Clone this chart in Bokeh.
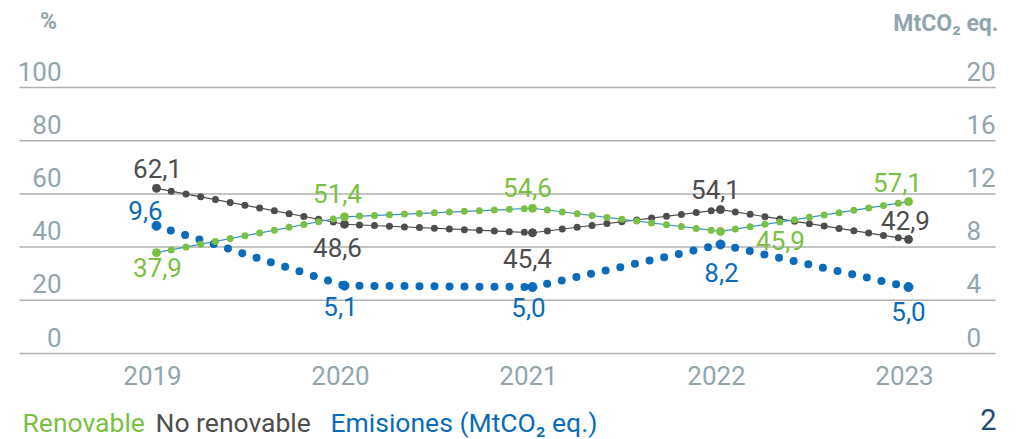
from bokeh.plotting import figure
from bokeh.models import Range1d, ColumnDataSource, LabelSet, Label
from bokeh.core.properties import value
from bokeh.embed import file_html
from bokeh.resources import INLINE

# ---------------- data ----------------
years = ["2019", "2020", "2021", "2022", "2023"]
renovable = [37.9, 51.4, 54.6, 45.9, 57.1]
no_renovable = [62.1, 48.6, 45.4, 54.1, 42.9]
emisiones = [9.6, 5.1, 5.0, 8.2, 5.0]
pct_ticks = [0, 20, 40, 60, 80, 100]
em_ticks = [0, 4, 8, 12, 16, 20]
legend_labels = ["Renovable", "No renovable", "Emisiones (MtCO\u2082 eq.)"]
left_title = "%"
right_title = "MtCO\u2082 eq."
page_number = "2"

# ---------------- style ----------------
GREEN = "#7ac143"
GREY = "#4d4d4d"
BLUE = "#0a6cb8"
THIN_BLUE = "#3a8fd2"
AXIS = "#92a5ad"
GRID = "#b0b0b0"
NAVY = "#1d4b73"
FONT = value("Roboto")

xs = list(range(len(years)))
# ranges chosen so the whole canvas is the plotting frame
X0, X1 = -0.8298, 4.5957
Y0, Y1 = -32.33, 132.71
EM_SCALE = pct_ticks[-1] / em_ticks[-1]
GL, GR = -0.7287, 4.4628  # horizontal extent of grid lines

p = figure(width=1020, height=439, min_border=0,
           x_range=Range1d(X0, X1), y_range=Range1d(Y0, Y1),
           x_axis_location=None, y_axis_location=None,
           toolbar_location=None, output_backend="svg")
p.extra_y_ranges = {"em": Range1d(Y0 / EM_SCALE, Y1 / EM_SCALE)}
p.outline_line_color = None
p.grid.visible = False
p.background_fill_color = "white"
p.border_fill_color = "white"

# grid lines (incl. baseline at 0)
p.segment(x0=[GL] * len(pct_ticks), x1=[GR] * len(pct_ticks), y0=pct_ticks, y1=pct_ticks,
          line_color=GRID, line_width=1.5)


def series(vals, color, thin_color, dot_w, dash, msize, rng="default"):
    src = ColumnDataSource(dict(x0=xs[:-1], y0=vals[:-1], x1=xs[1:], y1=vals[1:]))
    if thin_color:
        p.segment("x0", "y0", "x1", "y1", source=src, line_color=thin_color,
                  line_width=1.2, y_range_name=rng)
    p.segment("x0", "y0", "x1", "y1", source=src, line_color=color, line_width=dot_w,
              line_dash=dash, line_cap="round", y_range_name=rng)
    p.scatter(xs, vals, size=msize, color=color, y_range_name=rng)


series(emisiones, BLUE, None, 8, "0 15", 9, "em")
series(no_renovable, GREY, GREY, 7, "0 15", 8)
series(renovable, GREEN, THIN_BLUE, 7, "0 15", 8)


def fmt(v):
    return f"{v:.1f}".replace(".", ",")


def data_labels(vals, color, dx, dy, rng="default"):
    src = ColumnDataSource(dict(x=xs, y=vals, t=[fmt(v) for v in vals], dx=dx, dy=dy))
    p.add_layout(LabelSet(x="x", y="y", text="t", source=src, x_offset="dx", y_offset="dy",
                          text_align="center", text_baseline="middle", text_color=color,
                          text_font=FONT, text_font_size="26px", y_range_name=rng))


data_labels(no_renovable, GREY, [1, -7, -5, -5, -3], [20, -23, -26, 20, 19])
data_labels(renovable, GREEN, [1, -7, -5, 60, -11], [-15, 23, 21, -9, 19])
data_labels(emisiones, BLUE, [-11, -4, -4, 1, 0], [15, -21, -20, -28, -24], "em")

# x tick labels
xsrc = ColumnDataSource(dict(x=xs, y=[0] * len(xs), t=years))
p.add_layout(LabelSet(x="x", y="y", text="t", source=xsrc, x_offset=-4, y_offset=-22,
                      text_align="center", text_baseline="middle", text_color=AXIS,
                      text_font=FONT, text_font_size="26px"))

# y tick labels
lsrc = ColumnDataSource(dict(x=[GL] * len(pct_ticks), y=pct_ticks, t=[str(v) for v in pct_ticks]))
p.add_layout(LabelSet(x="x", y="y", text="t", source=lsrc, x_offset=42, y_offset=7,
                      text_align="right", text_baseline="alphabetic", text_color=AXIS,
                      text_font=FONT, text_font_size="26px"))
rsrc = ColumnDataSource(dict(x=[GR] * len(em_ticks), y=em_ticks, t=[str(v) for v in em_ticks]))
p.add_layout(LabelSet(x="x", y="y", text="t", source=rsrc, x_offset=-29, y_offset=7,
                      text_align="left", text_baseline="alphabetic", text_color=AXIS,
                      text_font=FONT, text_font_size="26px", y_range_name="em"))

# axis titles
p.add_layout(Label(x=GL, y=pct_ticks[-1], x_offset=29, y_offset=66, text=left_title,
                   text_align="center", text_baseline="middle", text_font_style="bold",
                   text_color=AXIS, text_font="Roboto", text_font_size="23px"))
p.add_layout(Label(x=GR, y=pct_ticks[-1], x_offset=3, y_offset=64, text=right_title,
                   text_align="right", text_baseline="middle", text_font_style="bold",
                   text_color=AXIS, text_font="Roboto", text_font_size="23px"))

# legend
for txt, col, off in zip(legend_labels, [GREEN, GREY, BLUE], [3, 136, 311]):
    p.add_layout(Label(x=GL, y=0, x_offset=off, y_offset=-69, text=txt,
                       text_align="left", text_baseline="middle", text_color=col,
                       text_font="Roboto", text_font_size="26.5px"))

p.add_layout(Label(x=GR, y=0, x_offset=-7, y_offset=-66, text=page_number,
                   text_align="center", text_baseline="middle", text_color=NAVY,
                   text_font="Roboto", text_font_size="29px"))

open("out.html", "w").write(file_html(p, INLINE))
